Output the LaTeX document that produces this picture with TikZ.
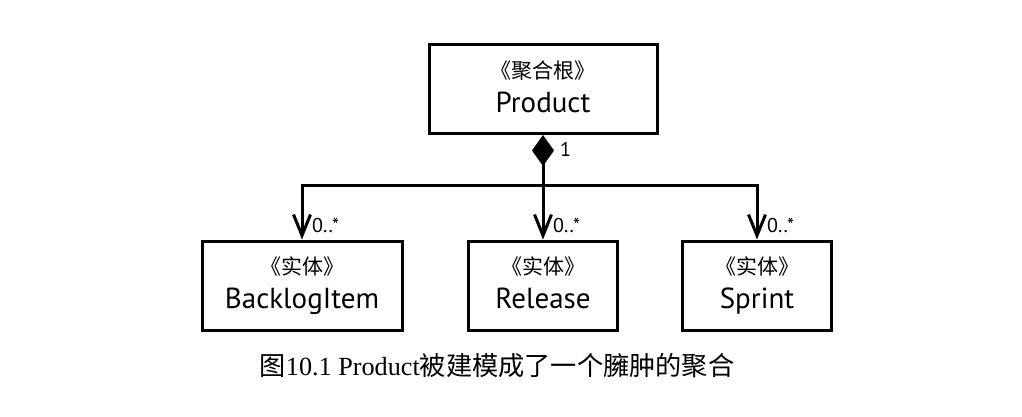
\documentclass[tikz,border=0pt]{standalone}
\usepackage{fontspec}
\setmainfont{Liberation Serif}
\newfontfamily\cjk{Noto Sans CJK SC}
\newfontfamily\lsans{PT Sans}
\usetikzlibrary{arrows.meta}
\tikzset{
  box/.style={draw, line width=3pt, minimum height=89pt, inner sep=0pt},
  conn/.style={line width=3pt, line join=miter},
  barb/.tip={Straight Barb[length=21pt,width=17pt]},
  mult/.style={font=\lsans\fontsize{20}{20}\selectfont, anchor=west, inner sep=0pt},
  stereo/.style={font=\cjk\fontsize{21}{21}\selectfont, anchor=base, inner sep=0pt},
  cname/.style={font=\lsans\fontsize{29}{29}\selectfont, anchor=base, inner sep=0pt},
}
\begin{document}
\begin{tikzpicture}
\useasboundingbox[fill=white] (0,0) rectangle (1022pt,-416pt);
\node[box, minimum width=228pt] (prod) at (543pt,-89pt) {};
\node[box, minimum width=200pt] (bl) at (302pt,-285.5pt) {};
\node[box, minimum width=149pt] (rel) at (543pt,-285.5pt) {};
\node[box, minimum width=149pt] (sp) at (757pt,-285.5pt) {};
\node[stereo] (prodS) at ([yshift=11pt]prod.center) {《聚合根》};
\node[cname]  (prodN) at ([yshift=-23pt]prod.center) {Product};
\node[stereo] (blS) at ([yshift=11pt]bl.center) {《实体》};
\node[cname]  (blN) at ([yshift=-23pt]bl.center) {BacklogItem};
\node[stereo] (relS) at ([yshift=11pt]rel.center) {《实体》};
\node[cname]  (relN) at ([yshift=-23pt]rel.center) {Release};
\node[stereo] (spS) at ([yshift=11pt]sp.center) {《实体》};
\node[cname]  (spN) at ([yshift=-23pt]sp.center) {Sprint};
\coordinate (hy) at (0,-185pt);
\draw[conn, {Diamond[length=31pt,width=22pt]}-barb] (prod.south) -- (prod.south |- hy) -| (bl.north);
\draw[conn, -barb] (prod.south |- hy) -- (rel.north);
\draw[conn, -barb] (prod.south |- hy) -| (sp.north);
\node[mult] (m0) at (560pt,-149pt) {1};
\node[mult] (m1) at ([shift={(10pt,14pt)}]bl.north) {0..*};
\node[mult] (m2) at ([shift={(10pt,14pt)}]rel.north) {0..*};
\node[mult] (m3) at ([shift={(10pt,14pt)}]sp.north) {0..*};
\node (cap) at (497pt,-366pt)
  {\fontsize{26.2}{27}\selectfont{\cjk 图}10.1 Product{\cjk 被建模成了一个臃肿的聚合}};
\end{tikzpicture}
\end{document}
